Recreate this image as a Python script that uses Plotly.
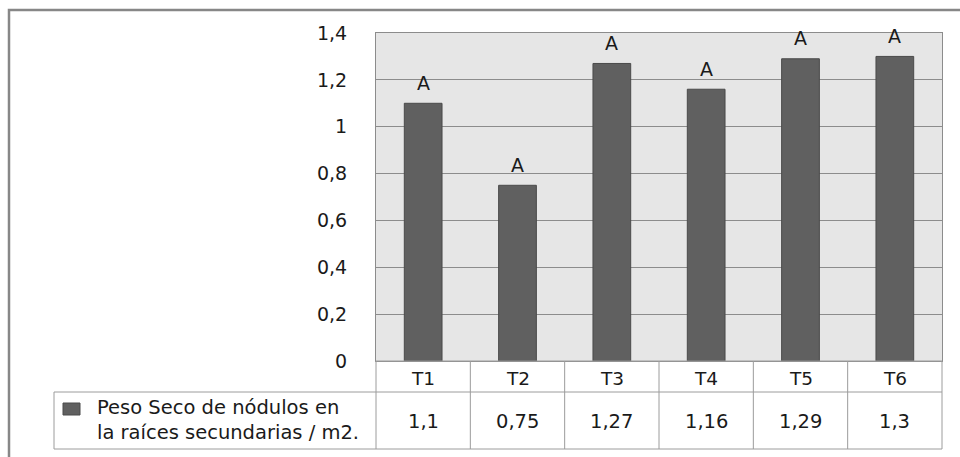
import plotly.graph_objects as go

# Data
categories = ["T1", "T2", "T3", "T4", "T5", "T6"]
values = [1.1, 0.75, 1.27, 1.16, 1.29, 1.3]
letters = ["A", "A", "A", "A", "A", "A"]
value_labels = ["1,1", "0,75", "1,27", "1,16", "1,29", "1,3"]
series_name = "Peso Seco de nódulos en<br>la raíces secundarias / m2."
y_ticks = [0, 0.2, 0.4, 0.6, 0.8, 1.0, 1.2, 1.4]
y_tick_text = ["0", "0,2", "0,4", "0,6", "0,8", "1", "1,2", "1,4"]

FONT = "DejaVu Sans"
BAR = "#606060"
GRID = "#8c8c8c"
TABLE = "#9c9c9c"
TEXT = "#1a1a1a"

W, H = 960, 457
L, R, T, B = 376, 18, 33, 96
plot_w = W - L - R
plot_h = H - T - B


def px_x(px):
    return (px - L) / plot_w


def px_y(py):
    return (H - B - py) / plot_h


fig = go.Figure()
fig.add_trace(go.Bar(
    x=categories, y=values,
    marker=dict(color=BAR, line=dict(color="#4a4a4a", width=1)),
    width=0.4, showlegend=False, hoverinfo="skip",
))

annotations = []
# significance letters above bars
for c, v, t in zip(categories, values, letters):
    annotations.append(dict(x=c, y=v, xref="x", yref="y", text=t, showarrow=False,
                            yanchor="middle", yshift=20.5,
                            font=dict(family=FONT, size=19, color=TEXT)))

# data-table rows below the axis
row1_top, row1_bot, row2_bot = px_y(361), px_y(392), px_y(449)
for c in categories:
    annotations.append(dict(x=c, y=px_y(378), xref="x", yref="paper", text=c,
                            showarrow=False, yanchor="middle",
                            font=dict(family=FONT, size=18.5, color=TEXT)))
for c, lab in zip(categories, value_labels):
    annotations.append(dict(x=c, y=px_y(421), xref="x", yref="paper", text=lab,
                            showarrow=False, yanchor="middle",
                            font=dict(family=FONT, size=19.5, color=TEXT)))
annotations.append(dict(x=px_x(95), y=px_y(420), xref="paper", yref="paper",
                        text=series_name, showarrow=False, xanchor="left",
                        yanchor="middle", align="left",
                        font=dict(family=FONT, size=19.5, color=TEXT)))

shapes = []
line = dict(color=TABLE, width=1)
# horizontal table rules
for yy in (row1_bot, row2_bot):
    shapes.append(dict(type="line", xref="paper", yref="paper",
                       x0=px_x(54), x1=1, y0=yy, y1=yy, line=line))
shapes.append(dict(type="line", xref="paper", yref="paper",
                   x0=0, x1=1, y0=row1_top, y1=row1_top, line=line))
# vertical rules between categories
n = len(categories)
for i in range(n + 1):
    xx = i / n
    shapes.append(dict(type="line", xref="paper", yref="paper",
                       x0=xx, x1=xx, y0=row1_top, y1=row2_bot, line=line))
shapes.append(dict(type="line", xref="paper", yref="paper",
                   x0=px_x(54), x1=px_x(54), y0=row1_bot, y1=row2_bot, line=line))
# legend key
shapes.append(dict(type="rect", xref="paper", yref="paper",
                   x0=px_x(63), x1=px_x(80), y0=px_y(415), y1=px_y(403),
                   fillcolor=BAR, line=dict(color="#4a4a4a", width=1)))
# outer chart frame
shapes.append(dict(type="path", xref="paper", yref="paper",
                   path=f"M {px_x(9)},{px_y(470)} L {px_x(9)},{px_y(10)} L {px_x(975)},{px_y(10)}",
                   line=dict(color="#878787", width=2.5)))

fig.update_layout(
    width=W, height=H,
    margin=dict(l=L, r=R, t=T, b=B, pad=0),
    paper_bgcolor="white",
    plot_bgcolor="#e6e6e6",
    bargap=0.6,
    xaxis=dict(showticklabels=False, showgrid=False, zeroline=False,
               showline=True, mirror=True, linecolor=GRID, linewidth=1,
               range=[-0.5, n - 0.5], fixedrange=True),
    yaxis=dict(range=[0, 1.4], tickvals=y_ticks, ticktext=y_tick_text,
               showgrid=True, gridcolor=GRID, gridwidth=1, zeroline=False,
               showline=True, mirror=True, linecolor=GRID, linewidth=1,
               ticks="outside", ticklen=24, tickcolor="rgba(0,0,0,0)",
               tickfont=dict(family=FONT, size=19, color=TEXT),
               fixedrange=True),
    annotations=annotations,
    shapes=shapes,
)

fig.write_html("out.html")
